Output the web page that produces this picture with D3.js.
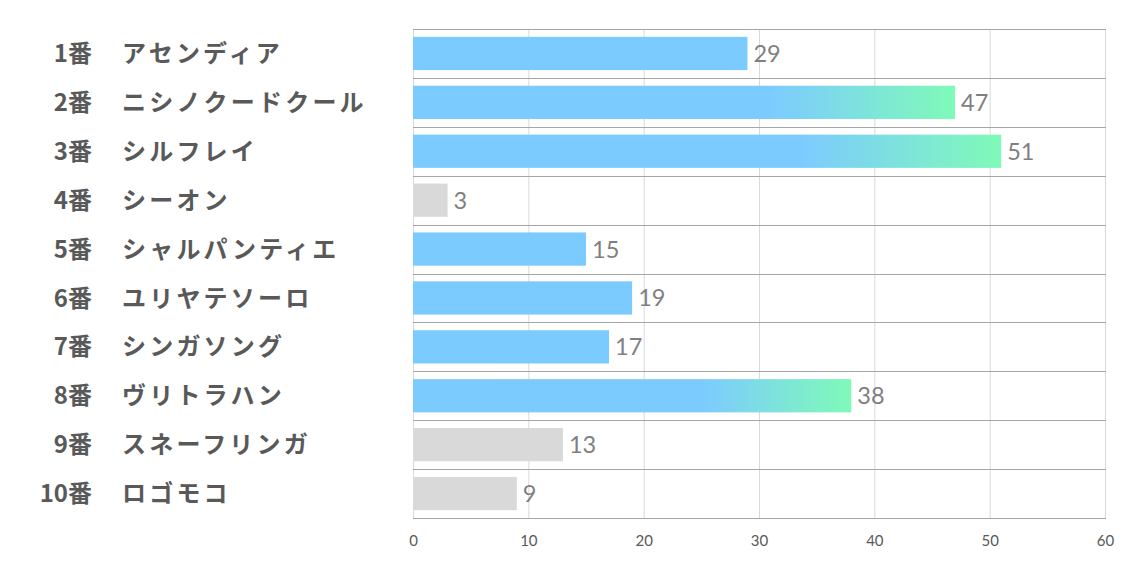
<!DOCTYPE html>
<html><head><meta charset="utf-8">
<script src="https://cdn.jsdelivr.net/npm/d3@7"></script>
<style>
html,body{margin:0;padding:0;background:#fff;}
svg{display:block;}
</style></head>
<body>
<svg id="chart" width="1134" height="567"></svg>
<script>
const numbers = ["1番","2番","3番","4番","5番","6番","7番","8番","9番","10番"];
const names = ["アセンディア","ニシノクードクール","シルフレイ","シーオン","シャルパンティエ","ユリヤテソーロ","シンガソング","ヴリトラハン","スネーフリンガ","ロゴモコ"];
const values = [29,47,51,3,15,19,17,38,13,9];
const status = ["mark","top","top","out","mark","mark","mark","top","out","out"];
const xTicks = [0,10,20,30,40,50,60];

const svg = d3.select("#chart");
const pLeft = 413, pRight = 1105, pTop = 29, pBottom = 518;

const x = d3.scaleLinear().domain([0,60]).range([pLeft,pRight]);
const y = d3.scaleBand().domain(d3.range(values.length)).range([pTop,pBottom]).padding(0);
const barH = y.bandwidth()*0.68;

const defs = svg.append("defs");
const g = defs.append("linearGradient").attr("id","grad")
  .attr("x1","0").attr("y1","0").attr("x2","1").attr("y2","0");
g.append("stop").attr("offset","0").attr("stop-color","#7ccbff");
g.append("stop").attr("offset","0.66").attr("stop-color","#7ccbff");
g.append("stop").attr("offset","1").attr("stop-color","#7ffab8");

const fills = {mark:"#7ccbff", top:"url(#grad)", out:"#d9d9d9"};

// vertical grid
svg.append("g").selectAll("line").data(xTicks).join("line")
  .attr("x1",d=>x(d)+0.5).attr("x2",d=>x(d)+0.5)
  .attr("y1",pTop).attr("y2",pBottom)
  .attr("stroke","#d9d9d9").attr("stroke-width",1);

// bars
svg.append("g").selectAll("rect").data(values).join("rect")
  .attr("x",x(0)).attr("width",d=>x(d)-x(0))
  .attr("y",(d,i)=>y(i)+(y.bandwidth()-barH)/2).attr("height",barH)
  .attr("fill",(d,i)=>fills[status[i]]);

// horizontal lines
const bounds = d3.range(values.length+1).map(i=> i<values.length ? y(i) : y(values.length-1)+y.bandwidth());
svg.append("g").selectAll("line").data(bounds).join("line")
  .attr("x1",pLeft).attr("x2",pRight+1)
  .attr("y1",d=>Math.round(d)+0.5).attr("y2",d=>Math.round(d)+0.5)
  .attr("stroke","#a6a6a6").attr("stroke-width",1);

// value labels
svg.append("g").selectAll("text").data(values).join("text")
  .attr("x",d=>x(d)+6).attr("y",(d,i)=>y(i)+y.bandwidth()/2)
  .attr("dy","0.36em")
  .attr("font-family","Lato, 'Open Sans', sans-serif").attr("font-size",23.5)
  .attr("fill","#7f7f7f").text(d=>d);

// category labels
const lab = svg.append("g").attr("font-family","'Noto Sans CJK JP', sans-serif")
  .attr("font-weight","bold").attr("font-size",24).attr("fill","#595959");
lab.selectAll("text.num").data(numbers).join("text").attr("class","num")
  .attr("x",92).attr("y",(d,i)=>y(i)+y.bandwidth()/2).attr("dy","0.36em")
  .attr("text-anchor","end").text(d=>d);
lab.selectAll("text.nm").data(names).join("text").attr("class","nm")
  .attr("x",122).attr("y",(d,i)=>y(i)+y.bandwidth()/2).attr("dy","0.36em")
  .attr("letter-spacing","3.2px").text(d=>d);

// x axis
const ax = svg.append("g").attr("transform",`translate(0,${pBottom})`)
  .call(d3.axisBottom(x).tickValues(xTicks).tickSize(0).tickPadding(17).tickFormat(d3.format("d")));
ax.select(".domain").remove();
ax.selectAll("text").attr("font-family","Lato, 'Open Sans', sans-serif").attr("font-size",15).attr("fill","#595959");
</script>
</body></html>
